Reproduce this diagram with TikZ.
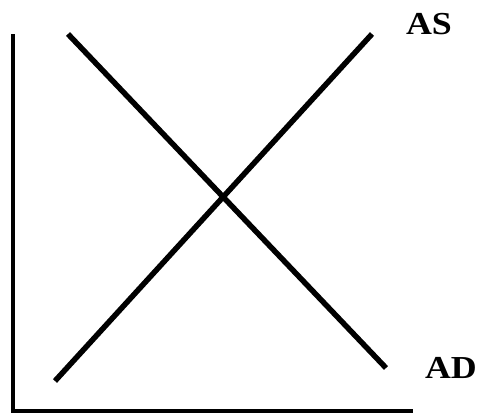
\documentclass[tikz,border=0pt]{standalone}
\usepackage{fontspec}
\newfontfamily\curvefont[FakeStretch=1.12]{Liberation Serif Bold}
\usetikzlibrary{positioning,calc}
\tikzset{
  axis/.style={line width=4pt, line cap=butt},
  curve/.style={line width=5.5pt, line cap=butt},
  curvelabel/.style={inner sep=0pt, font=\curvefont\fontsize{32}{32}\selectfont}
}
\begin{document}
\begin{tikzpicture}[x=1pt, y=-1pt]
\useasboundingbox (0,0) rectangle (485,415);

% --- Axes ---
\coordinate (ytop) at (13,34);
\coordinate (origin) at (13,411);
\coordinate (xend) at (413,411);
\draw[axis] (ytop) -- ($(origin)+(0,2)$);
\draw[axis] ($(origin)+(-2,0)$) -- (xend);

% --- Curves ---
\coordinate (aslow) at (55,381);
\coordinate (ashigh) at (372,34);
\coordinate (adhigh) at (68,34);
\coordinate (adlow) at (386,368);
\draw[curve] (aslow) -- (ashigh);
\draw[curve] (adhigh) -- (adlow);

% --- Labels ---
\node[curvelabel] (as) at (429,24) {AS};
\node[curvelabel] (ad) at (451,368) {AD};

\end{tikzpicture}
\end{document}
